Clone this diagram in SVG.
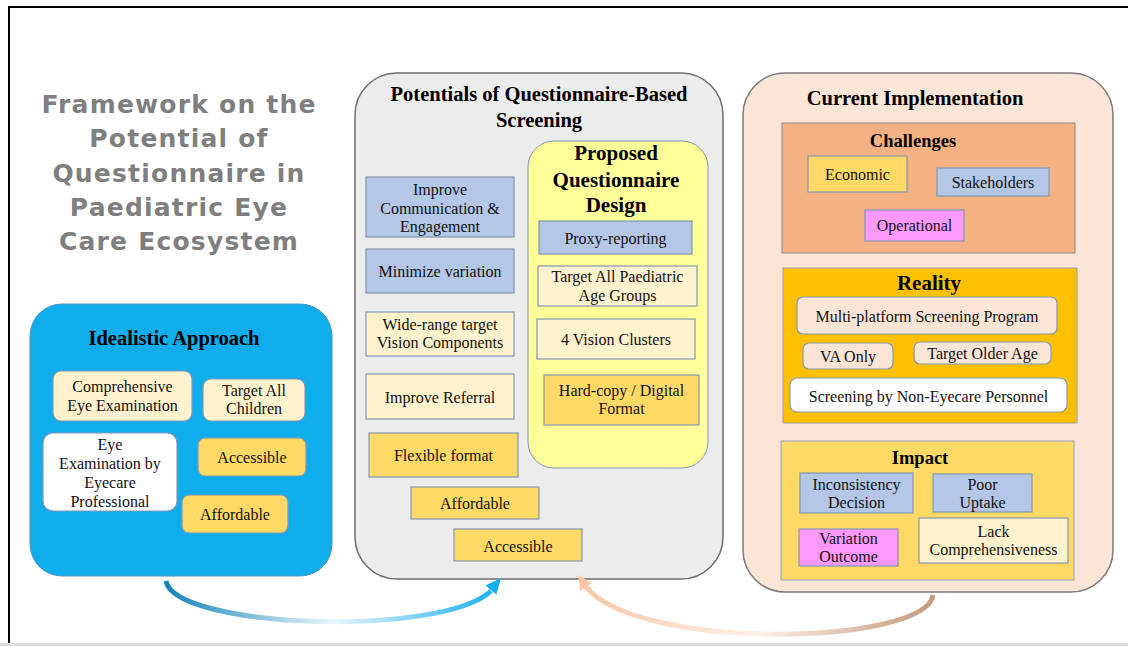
<svg xmlns="http://www.w3.org/2000/svg" width="1128" height="646" viewBox="0 0 1128 646">
<style>
.lbl{font-family:"Liberation Serif",serif;font-size:16px;text-anchor:middle;fill:#111}
.hdr{font-family:"Liberation Serif",serif;font-weight:bold;text-anchor:middle;fill:#000}
.ttl{font-family:"DejaVu Sans",sans-serif;font-weight:bold;font-size:25px;letter-spacing:1.2px;text-anchor:middle;fill:#7f7f7f}
.b{stroke:#8497b0;stroke-width:1.2}
.blue{fill:#b4c7e7}.cream{fill:#fff2cc}.gold{fill:#ffd966}.pink{fill:#ff99ff}.white{fill:#ffffff}.peach{fill:#fbe5d6}
</style>
<defs>
<linearGradient id="gBlue" gradientUnits="userSpaceOnUse" x1="166" y1="0" x2="500" y2="0">
<stop offset="0" stop-color="#1584bb"/><stop offset="0.5" stop-color="#eaf6fc"/><stop offset="1" stop-color="#14aef0"/>
</linearGradient>
<linearGradient id="gPeach" gradientUnits="userSpaceOnUse" x1="933" y1="0" x2="578" y2="0">
<stop offset="0" stop-color="#c49a7c"/><stop offset="0.5" stop-color="#fdf1ea"/><stop offset="1" stop-color="#f8c6a4"/>
</linearGradient>
</defs>
<rect x="0" y="0" width="1128" height="646" fill="#ffffff"/>
<g id="frame">
<path d="M9,643 V7 H1128" fill="none" stroke="#000" stroke-width="2"/>
<rect x="0" y="643" width="1128" height="3" fill="#dcdcdc"/>
</g>
<g id="title">
<text class="ttl" x="179" y="113">Framework on the</text>
<text class="ttl" x="179" y="147">Potential of</text>
<text class="ttl" x="179" y="182">Questionnaire in</text>
<text class="ttl" x="179" y="216">Paediatric Eye</text>
<text class="ttl" x="179" y="250">Care Ecosystem</text>
</g>
<g id="idealistic">
<rect x="30" y="304" width="302" height="272" rx="32" fill="#10adec" stroke="#4a8fc0" stroke-width="1"/>
<text class="hdr" x="174" y="345" font-size="20.5">Idealistic Approach</text>
<g id="i-comprehensive"><rect class="b cream" x="53" y="371" width="139" height="50" rx="8"/><text class="lbl" x="122.5" y="392">Comprehensive</text><text class="lbl" x="122.5" y="411">Eye Examination</text></g>
<g id="i-target"><rect class="b cream" x="203" y="379" width="102" height="42" rx="8"/><text class="lbl" x="254" y="396">Target All</text><text class="lbl" x="254" y="414">Children</text></g>
<g id="i-eyeexam"><rect class="b white" x="43" y="433" width="134" height="78" rx="10"/><text class="lbl" x="110" y="450">Eye</text><text class="lbl" x="110" y="469">Examination by</text><text class="lbl" x="110" y="488">Eyecare</text><text class="lbl" x="110" y="507">Professional</text></g>
<g id="i-accessible"><rect class="b gold" x="198" y="438" width="108" height="38" rx="7"/><text class="lbl" x="252" y="463">Accessible</text></g>
<g id="i-affordable"><rect class="b gold" x="182" y="495" width="106" height="38" rx="7"/><text class="lbl" x="235" y="520">Affordable</text></g>
</g>
<g id="potentials">
<rect x="355" y="73" width="368" height="506" rx="42" fill="#ececec" stroke="#6e6e6e" stroke-width="1.5"/>
<text class="hdr" x="539" y="101" font-size="20.5">Potentials of Questionnaire-Based</text>
<text class="hdr" x="539" y="127" font-size="20.5">Screening</text>
<g id="p-comm"><rect class="b blue" x="366" y="177" width="148" height="60"/><text class="lbl" x="440" y="195">Improve</text><text class="lbl" x="440" y="213.5">Communication &amp;</text><text class="lbl" x="440" y="232">Engagement</text></g>
<g id="p-minimize"><rect class="b blue" x="366" y="249" width="148" height="44"/><text class="lbl" x="440" y="277">Minimize variation</text></g>
<g id="p-widerange"><rect class="b cream" x="366" y="312" width="148" height="44"/><text class="lbl" x="440" y="330">Wide-range target</text><text class="lbl" x="440" y="348">Vision Components</text></g>
<g id="p-referral"><rect class="b cream" x="366" y="374" width="148" height="45"/><text class="lbl" x="440" y="403">Improve Referral</text></g>
<g id="p-flexible"><rect class="b gold" x="369" y="433" width="149" height="44"/><text class="lbl" x="443.5" y="461">Flexible format</text></g>
<g id="p-affordable"><rect class="b gold" x="411" y="487" width="128" height="32"/><text class="lbl" x="475" y="509">Affordable</text></g>
<g id="p-accessible"><rect class="b gold" x="454" y="529" width="128" height="32"/><text class="lbl" x="518" y="552">Accessible</text></g>
</g>
<g id="proposed">
<rect x="528" y="141" width="180" height="327" rx="26" fill="#ffff99" stroke="#8497b0" stroke-width="1"/>
<text class="hdr" x="616" y="160" font-size="21">Proposed</text>
<text class="hdr" x="616" y="187" font-size="21">Questionnaire</text>
<text class="hdr" x="616" y="212" font-size="21">Design</text>
<g id="q-proxy"><rect class="b blue" x="539" y="221" width="153" height="33"/><text class="lbl" x="615.5" y="244">Proxy-reporting</text></g>
<g id="q-target"><rect class="b cream" x="538" y="266" width="159" height="40"/><text class="lbl" x="617.5" y="282">Target All Paediatric</text><text class="lbl" x="617.5" y="301">Age Groups</text></g>
<g id="q-clusters"><rect class="b cream" x="537" y="319" width="158" height="40"/><text class="lbl" x="616" y="345">4 Vision Clusters</text></g>
<g id="q-format"><rect class="b gold" x="544" y="375" width="155" height="50"/><text class="lbl" x="621.5" y="396">Hard-copy / Digital</text><text class="lbl" x="621.5" y="414">Format</text></g>
</g>
<g id="current">
<rect x="743" y="73" width="370" height="519" rx="42" fill="#fbe5d6" stroke="#7a7a7a" stroke-width="1.5"/>
<text class="hdr" x="915" y="105" font-size="20.5">Current Implementation</text>
<g id="challenges">
<rect x="782" y="123" width="293" height="130" fill="#f4b183" stroke="#8c8c8c" stroke-width="1"/>
<text class="hdr" x="913" y="147" font-size="18.5">Challenges</text>
<g id="c-economic"><rect class="b gold" x="808" y="156" width="99" height="36"/><text class="lbl" x="857.5" y="180">Economic</text></g>
<g id="c-stakeholders"><rect class="b blue" x="937" y="168" width="112" height="28"/><text class="lbl" x="993" y="188">Stakeholders</text></g>
<g id="c-operational"><rect class="b pink" x="865" y="210" width="99" height="31"/><text class="lbl" x="914.5" y="231">Operational</text></g>
</g>
<g id="reality">
<rect x="783" y="268" width="294" height="155" fill="#ffc000" stroke="#a0a0a0" stroke-width="1"/>
<text class="hdr" x="929" y="290" font-size="21">Reality</text>
<g id="r-multi"><rect class="b peach" x="797" y="297" width="260" height="37" rx="6"/><text class="lbl" x="927" y="322">Multi-platform Screening Program</text></g>
<g id="r-va"><rect class="b peach" x="803" y="343" width="90" height="26" rx="6"/><text class="lbl" x="848" y="362">VA Only</text></g>
<g id="r-older"><rect class="b peach" x="914" y="342" width="137" height="22" rx="6"/><text class="lbl" x="982.5" y="359">Target Older Age</text></g>
<g id="r-nonpersonnel"><rect class="b white" x="790" y="378" width="277" height="34" rx="7"/><text class="lbl" x="928.5" y="402">Screening by Non-Eyecare Personnel</text></g>
</g>
<g id="impact">
<rect x="781" y="441" width="293" height="139" fill="#ffd966" stroke="#8ea0c0" stroke-width="1"/>
<text class="hdr" x="920" y="464" font-size="18.5">Impact</text>
<g id="m-inconsistency"><rect class="b blue" x="800" y="473" width="113" height="40"/><text class="lbl" x="856.5" y="490">Inconsistency</text><text class="lbl" x="856.5" y="508">Decision</text></g>
<g id="m-uptake"><rect class="b blue" x="933" y="474" width="99" height="38"/><text class="lbl" x="982.5" y="490">Poor</text><text class="lbl" x="982.5" y="508">Uptake</text></g>
<g id="m-variation"><rect class="b pink" x="799" y="529" width="99" height="37"/><text class="lbl" x="848.5" y="544">Variation</text><text class="lbl" x="848.5" y="562">Outcome</text></g>
<g id="m-lack"><rect class="b cream" x="919" y="518" width="149" height="45"/><text class="lbl" x="993.5" y="537">Lack</text><text class="lbl" x="993.5" y="555">Comprehensiveness</text></g>
</g>
</g>
<g id="connectors">
<path d="M166,581 C174,628 440,638 491,591" fill="none" stroke="url(#gBlue)" stroke-width="5"/>
<polygon points="501,578 485.6,585.5 496.4,594.5" fill="#14aef0"/>
<path d="M933,595 C926,645 640,652 586,587" fill="none" stroke="url(#gPeach)" stroke-width="5"/>
<polygon points="578,575 591.7,583 580.3,591" fill="#f8c6a4"/>
</g>
</svg>
